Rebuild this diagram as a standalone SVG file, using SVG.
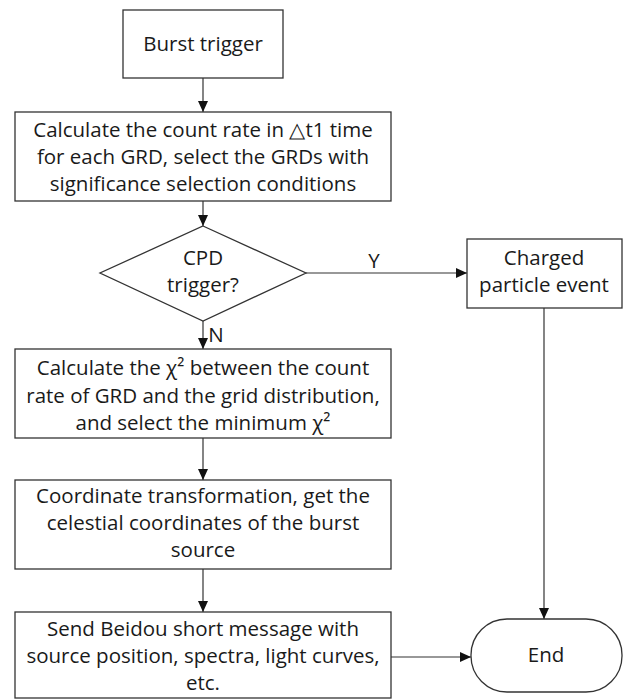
<svg xmlns="http://www.w3.org/2000/svg" width="632" height="700" viewBox="0 0 632 700">
<defs>
<marker id="arr" markerWidth="12" markerHeight="12" refX="11" refY="5" orient="auto" markerUnits="userSpaceOnUse">
<path d="M0,0 L11,5 L0,10 Z" fill="#111"/>
</marker>
<style>
.box{fill:#fff;stroke:#333;stroke-width:1.3}
.ln{fill:none;stroke:#333;stroke-width:1.2}
text{font-family:"Open Sans",Lato,"Liberation Sans",sans-serif;font-size:20.5px;fill:#1a1a1a;text-anchor:middle}
</style>
</defs>
<rect width="632" height="700" fill="#fff"/>
<g id="connectors">
<line class="ln" x1="203" y1="78" x2="203" y2="112" marker-end="url(#arr)"/>
<line class="ln" x1="203" y1="201" x2="203" y2="226" marker-end="url(#arr)"/>
<line class="ln" x1="306" y1="273" x2="467" y2="273" marker-end="url(#arr)"/>
<text x="374" y="268">Y</text>
<line class="ln" x1="203" y1="321" x2="203" y2="349" marker-end="url(#arr)"/>
<text x="216" y="342">N</text>
<line class="ln" x1="203" y1="438" x2="203" y2="480" marker-end="url(#arr)"/>
<line class="ln" x1="203" y1="569" x2="203" y2="612" marker-end="url(#arr)"/>
<line class="ln" x1="544" y1="308" x2="544" y2="619" marker-end="url(#arr)"/>
<line class="ln" x1="391" y1="657" x2="471" y2="657" marker-end="url(#arr)"/>
</g>
<g id="burst">
<rect class="box" x="123" y="10" width="160" height="68"/>
<text x="203" y="51">Burst trigger</text>
</g>
<g id="calc1">
<rect class="box" x="15" y="112" width="376" height="89"/>
<text x="203" y="137">Calculate the count rate in △t1 time</text>
<text x="203" y="164">for each GRD, select the GRDs with</text>
<text x="203" y="191">significance selection conditions</text>
</g>
<g id="cpd">
<polygon class="box" points="203,226 306,273 203,321 100,273"/>
<text x="203" y="265">CPD</text>
<text x="203" y="292">trigger?</text>
</g>
<g id="charged">
<rect class="box" x="467" y="239" width="155" height="69"/>
<text x="544" y="265">Charged</text>
<text x="544" y="292">particle event</text>
</g>
<g id="chi">
<rect class="box" x="15" y="349" width="376" height="89"/>
<text x="203" y="375">Calculate the χ² between the count</text>
<text x="203" y="403">rate of GRD and the grid distribution,</text>
<text x="203" y="430">and select the minimum χ²</text>
</g>
<g id="coord">
<rect class="box" x="15" y="480" width="376" height="89"/>
<text x="203" y="503">Coordinate transformation, get the</text>
<text x="203" y="530">celestial coordinates of the burst</text>
<text x="203" y="557">source</text>
</g>
<g id="send">
<rect class="box" x="15" y="612" width="376" height="86"/>
<text x="203" y="636">Send Beidou short message with</text>
<text x="203" y="663">source position, spectra, light curves,</text>
<text x="203" y="690">etc.</text>
</g>
<g id="end">
<rect class="box" x="471" y="619" width="151" height="73" rx="36" ry="36"/>
<text x="546" y="662">End</text>
</g>
</svg>
